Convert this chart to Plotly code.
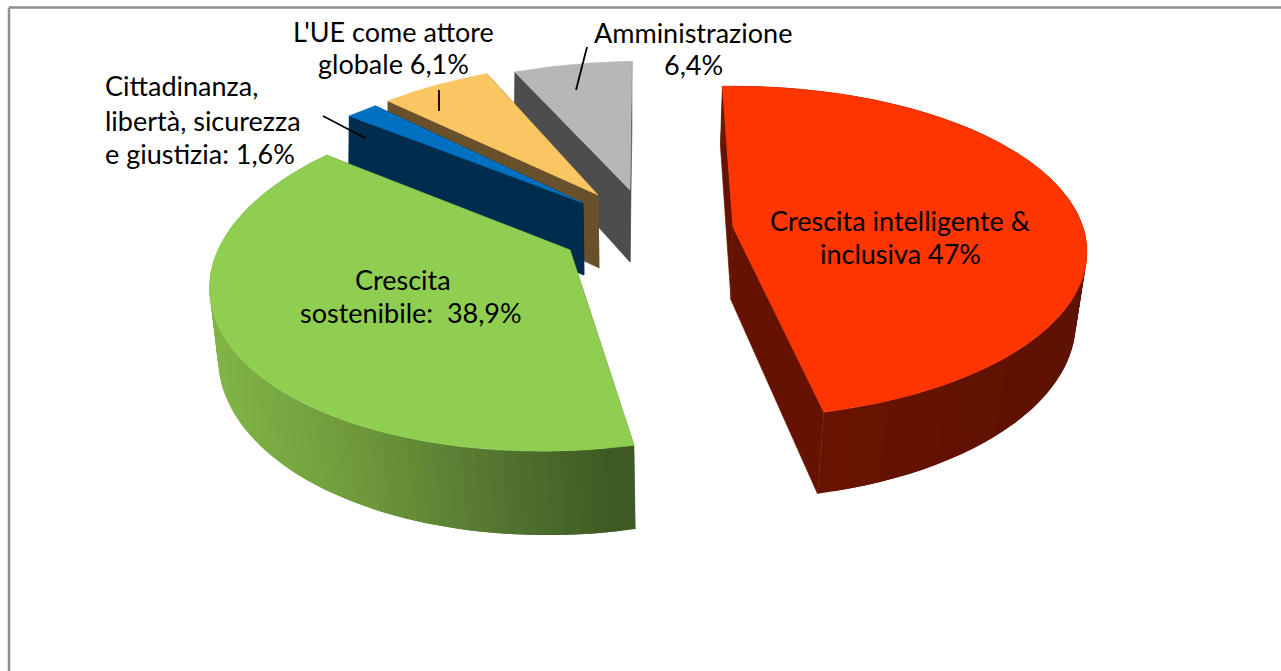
import numpy as np
import plotly.graph_objects as go

# --- data ---
categories = ["Amministrazione", "L'UE come attore globale",
              "Cittadinanza, libertà, sicurezza e giustizia",
              "Crescita sostenibile", "Crescita intelligente & inclusiva"]
values = [6.4, 6.1, 1.6, 38.9, 47.0]
# clockwise order from the top of the pie is the reverse of the drawing order
start_angle = -2.0

top_colors = ["#b7b7b7", "#f9c662", "#0070c0", "#8fce50", "#ff3500"]
face_colors = ["#4d4d4d", "#67502a", "#002c4e", "#4d6a2c", "#651300"]

# per-slice projection: cx, cy, a, b, shear (top), then same for the base
top_geom = [(630, 190, 339, 148, 14), (598, 195, 331, 152, 15.4), (583, 203, 352, 157, 41.6),
            (570, 250, 352, 171, 24), (733, 227, 350, 162, 0)]
base_geom = [(630, 262, 336, 158, 14), (599, 268, 328, 160, 15), (584, 275, 349, 165, 40),
             (570, 322, 346, 186, 20), (731, 300, 342, 174, 0)]
K_TOP, K_BASE = 0.15, 0.127

# side gradients: (position along x fraction, colour)
green_side = [(0.0, (130, 182, 72)), (0.3, (115, 160, 62)), (0.5, (100, 140, 55)),
              (0.7, (85, 118, 48)), (1.0, (62, 88, 36))]
red_side = [(0.0, (112, 22, 0)), (0.3, (105, 20, 0)), (1.0, (94, 18, 0))]
grad = [None, None, None, green_side, red_side]

labels = [
    ("Cittadinanza,", 103, 85, "left"), ("libertà, sicurezza", 103, 120, "left"),
    ("e giustizia: 1,6%", 103, 153, "left"),
    ("L'UE come attore", 393, 31, "center"), ("globale 6,1%", 393, 63, "center"),
    ("Amministrazione", 693, 32, "center"), ("6,4%", 693, 64, "center"),
    ("Crescita intelligente &", 900, 220, "center"), ("inclusiva 47%", 900, 253, "center"),
    ("Crescita", 403, 279, "center"), ("sostenibile:\u00a0\u00a038,9%", 411, 312, "center"),
]
leaders = [((587, 47), (576, 90)), ((439, 90), (439, 111)), ((323, 116), (365, 138))]


def project(theta, g, k):
    cx, cy, a, b, s = g
    X, Y = np.sin(np.radians(theta)), np.cos(np.radians(theta))
    d = 1 + k * Y
    return cx + (a * X + s * Y) / d, cy - b * Y / d


def poly(fig, xs, ys, color, edge=True):
    fig.add_trace(go.Scatter(x=list(xs), y=list(ys), mode="lines" if edge else "none",
                             fill="toself", fillcolor=color,
                             line=dict(color=color, width=0.6), hoverinfo="skip", showlegend=False))


def lerp(stops, t):
    for (t0, c0), (t1, c1) in zip(stops, stops[1:]):
        if t <= t1:
            u = (t - t0) / (t1 - t0)
            return "rgb(%d,%d,%d)" % tuple(c0[i] + (c1[i] - c0[i]) * u for i in range(3))
    return "rgb(%d,%d,%d)" % stops[-1][1]


# angular extent of each slice from the values (clockwise from the top)
clockwise = list(reversed(values))
edges = start_angle + np.concatenate([[0], np.cumsum(clockwise)]) * 3.6
spans = list(reversed(list(zip(edges[:-1], edges[1:]))))

fig = go.Figure()

for i, (t0, t1) in enumerate(spans):
    tg, bg = top_geom[i], base_geom[i]
    # cut faces
    for edge in (t0, t1):
        tx, ty = project(edge, tg, K_TOP)
        bx, by = project(edge, bg, K_BASE)
        poly(fig, [tg[0], tx, bx, bg[0], tg[0]], [tg[1], ty, by, bg[1], tg[1]], face_colors[i])
    # outer wall: overlapping strips so no seams show
    if grad[i] is not None:
        th = np.linspace(t0, t1, 70)
        tx, ty = project(th, tg, K_TOP)
        bx, by = project(th, bg, K_BASE)
        xmin, xmax = tx.min(), tx.max()
        order = range(len(th) - 3, -1, -1)
        for j in order:
            t = (0.5 * (tx[j] + tx[j + 1]) - xmin) / (xmax - xmin)
            sx = [tx[j], tx[j + 1], tx[j + 2], bx[j + 2], bx[j + 1], bx[j], tx[j]]
            sy = [ty[j], ty[j + 1], ty[j + 2], by[j + 2], by[j + 1], by[j], ty[j]]
            poly(fig, sx, sy, lerp(grad[i], t), edge=False)
    # top surface
    th = np.linspace(t0, t1, 120)
    ax, ay = project(th, tg, K_TOP)
    poly(fig, np.r_[tg[0], ax, tg[0]], np.r_[tg[1], ay, tg[1]], top_colors[i])

for (p, q) in leaders:
    fig.add_trace(go.Scatter(x=[p[0], q[0]], y=[p[1], q[1]], mode="lines",
                             line=dict(color="black", width=1.8), hoverinfo="skip", showlegend=False))

for text, x, y, align in labels:
    fig.add_annotation(x=x, y=y, text=text, showarrow=False, xanchor=align, yanchor="middle",
                       font=dict(family="Lato", size=27, color="black"))

# chart frame, top and left only
fig.add_shape(type="line", x0=9, x1=1281, y0=7.5, y1=7.5, line=dict(color="#8e8e8e", width=2.5))
fig.add_shape(type="line", x0=9, x1=9, y0=7.5, y1=671, line=dict(color="#8e8e8e", width=2.5))

fig.update_layout(width=1281, height=671, margin=dict(l=0, r=0, t=0, b=0),
                  paper_bgcolor="white", plot_bgcolor="white", showlegend=False,
                  xaxis=dict(range=[0, 1281], visible=False, fixedrange=True),
                  yaxis=dict(range=[671, 0], visible=False, fixedrange=True))
fig.write_html("out.html", config={"displayModeBar": False},
               post_script="document.body.style.margin='0';document.body.style.overflow='hidden';")
